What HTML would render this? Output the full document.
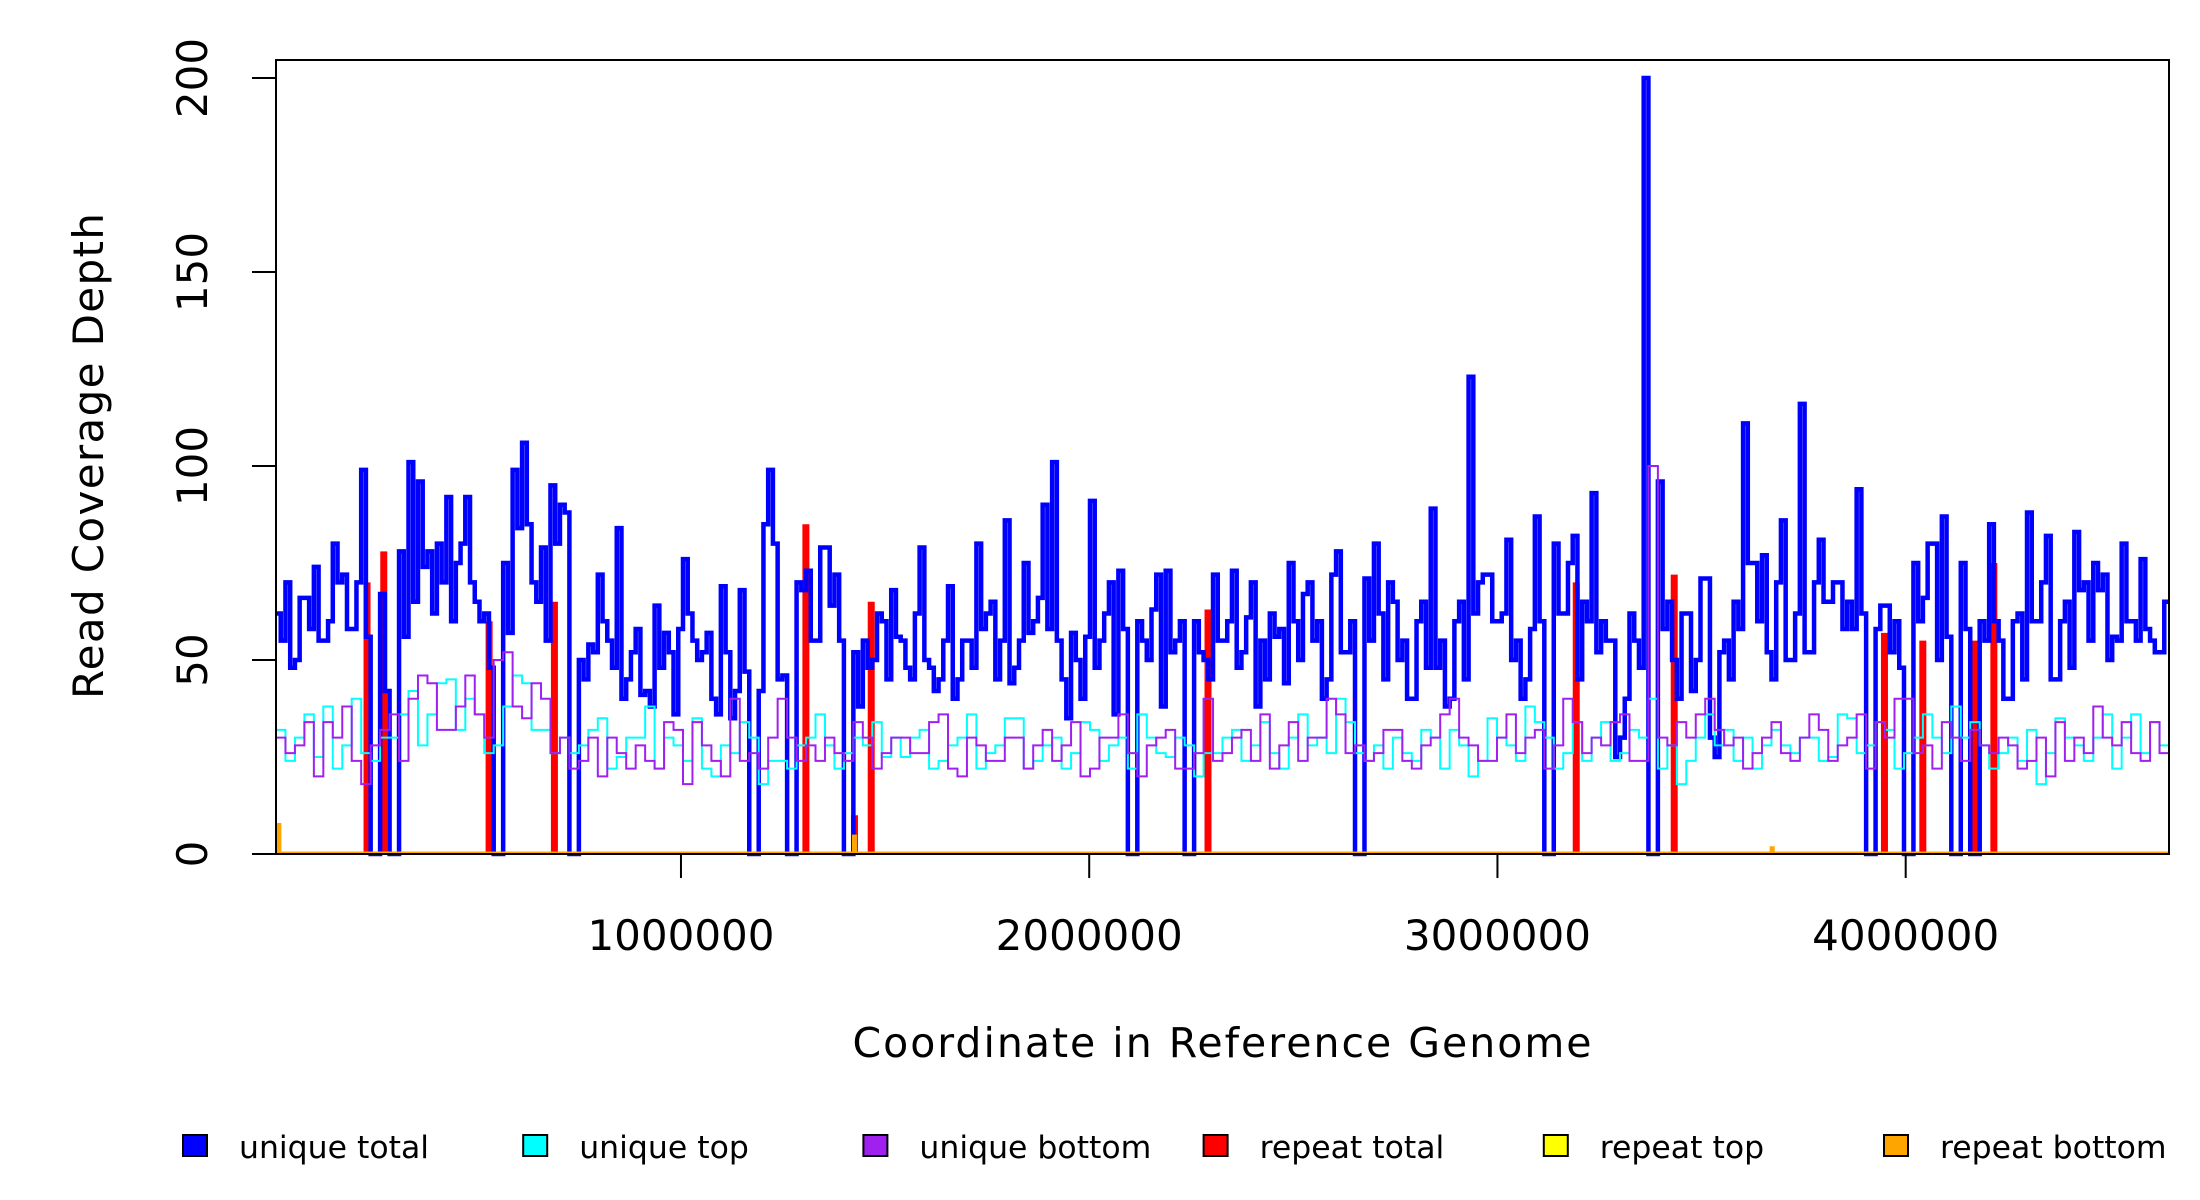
<!DOCTYPE html>
<html><head><meta charset="utf-8"><style>
html,body{margin:0;padding:0;background:#fff;}
svg{display:block;font-family:"DejaVu Sans","Liberation Sans",sans-serif;}
</style></head><body>
<svg id="chart" width="2200" height="1200" viewBox="0 0 2200 1200">
<g id="series"></g>
<rect x="276" y="60" width="1893" height="794" fill="none" stroke="#000" stroke-width="2"/>
<g id="yaxis"></g>
<g id="xaxis"></g>
<text x="1222" y="1057" font-size="41" text-anchor="middle" textLength="739">Coordinate in Reference Genome</text>
<text transform="translate(103,456) rotate(-90)" font-size="42" text-anchor="middle" textLength="486">Read Coverage Depth</text>
<g id="legend"></g>
</svg>
<script>
const uniqueTotal = [62,55,70,48,50,66,66,58,74,55,55,60,80,70,72,58,58,70,99,56,0,0,67,42,0,0,78,56,101,65,96,74,78,62,80,70,92,60,75,80,
92,70,65,60,62,48,0,0,75,57,99,84,106,85,70,65,79,55,95,80,90,88,0,0,50,45,54,52,72,60,
55,48,84,40,45,52,58,41,42,38,64,48,57,52,36,58,76,62,55,50,52,57,40,36,69,52,35,42,68,47,
0,0,42,85,99,80,45,46,0,0,70,68,73,55,55,79,79,64,72,55,0,0,52,38,55,48,50,62,60,45,
68,56,55,48,45,62,79,50,48,42,45,55,69,40,45,55,55,48,80,58,62,65,45,55,86,44,48,55,75,57,
60,66,90,58,101,55,45,35,57,50,40,56,91,48,55,62,70,36,73,58,0,0,60,55,50,63,72,38,73,52,
55,60,0,0,60,52,50,45,72,55,55,60,73,48,52,61,70,38,55,45,62,56,58,44,75,60,50,67,70,55,
60,40,45,72,78,52,52,60,0,0,71,55,80,62,45,70,65,50,55,40,40,60,65,48,89,48,55,38,40,60,
65,45,123,62,70,72,72,60,60,62,81,50,55,40,45,58,87,60,0,0,80,62,62,75,82,45,65,60,93,52,
60,55,55,25,30,40,62,55,48,200,0,0,96,58,65,50,40,62,62,42,50,71,71,30,25,52,55,45,65,58,
111,75,75,60,77,52,45,70,86,50,50,62,116,52,52,70,81,65,65,70,70,58,65,58,94,62,0,0,58,64,
64,52,60,48,0,0,75,60,66,80,80,50,87,56,0,0,75,58,0,0,60,55,85,60,55,40,40,60,62,45,
88,60,60,70,82,45,45,60,65,48,83,68,70,55,75,68,72,50,56,55,80,60,60,55,76,58,55,52,52,65];
const uniqueTop = [32,24,30,36,25,38,22,28,40,26,24,30,30,36,42,28,36,44,45,32,40,36,26,28,38,46,44,32,32,26,30,26,28,32,35,22,25,30,30,38,
22,30,28,24,35,22,20,28,26,34,30,18,24,24,22,28,30,36,28,22,26,30,28,34,25,30,25,30,32,22,24,28,30,36,22,26,28,35,35,22,
24,28,30,22,26,34,32,24,28,30,22,36,30,26,25,30,28,20,26,26,30,32,24,28,34,26,22,30,36,28,30,26,40,34,26,24,28,22,30,26,
24,32,30,22,32,28,20,24,35,30,28,24,38,34,30,22,26,34,24,30,34,24,26,32,30,40,22,28,18,24,30,36,28,32,24,30,22,28,32,28,
26,30,30,24,25,36,35,26,28,34,32,22,26,30,36,30,26,38,30,34,28,22,26,30,24,32,18,26,35,30,28,24,30,36,22,30,36,26,34,28];
const uniqueBottom = [30,26,28,34,20,34,30,38,24,18,28,32,36,24,40,46,44,32,32,38,46,36,30,50,52,38,35,44,40,26,30,22,24,30,20,30,26,22,28,24,
22,34,32,18,34,28,24,20,40,24,26,22,30,40,30,24,28,24,30,26,24,34,30,22,26,30,30,26,26,34,36,22,20,30,28,24,24,30,30,22,
28,32,24,28,34,20,22,30,30,36,26,20,28,30,32,22,22,26,40,24,26,30,32,24,36,22,28,34,24,30,30,40,36,26,28,24,26,32,32,24,
22,28,30,36,40,30,28,24,24,30,36,26,30,32,22,28,40,34,26,30,28,34,36,24,24,100,30,28,34,30,36,40,32,28,30,22,26,30,34,26,
24,30,36,32,24,28,30,36,22,34,30,40,40,26,28,22,34,30,24,32,28,26,30,28,22,24,30,20,34,24,30,26,38,30,28,34,26,24,34,26];
const repeatTotalPos = [231000,272000,530000,690000,1306000,1425000,1466000,2291000,3193000,3433000,3948000,4042000,4171000,4216000];
const repeatTotalVal = [70,78,60,65,85,10,65,63,70,72,57,55,55,75];
const repeatBottomPos = [15000,1425000,3673000];
const repeatBottomVal = [8,5,2];
const yTicks = [0,50,100,150,200];
const xTicks = [1000000,2000000,3000000,4000000];
const legendLabels = ["unique total","unique top","unique bottom","repeat total","repeat top","repeat bottom"];
const legendColors = ["#0000ff","#00ffff","#a020f0","#ff0000","#ffff00","#ffa500"];

const X0=8000, X1=4645000, PL=276, PR=2169, PB=854, PT=78;
const sx = v => PL + (v-X0)/(X1-X0)*(PR-PL);
const sy = v => PB - v/200*(PB-PT);
const NS='http://www.w3.org/2000/svg';
const series=document.getElementById('series');
function mk(tag, attrs, parent){const e=document.createElementNS(NS,tag);for(const k in attrs)e.setAttribute(k,attrs[k]);parent.appendChild(e);return e;}

function stepPath(vals){
  const w=(X1-X0)/vals.length;
  let d='M'+sx(X0)+','+sy(vals[0]);
  vals.forEach((v,i)=>{ if(i>0) d+='V'+sy(v); d+='H'+sx(X0+(i+1)*w); });
  return d;
}
repeatTotalPos.forEach((p,i)=>{
  const l=mk('line',{x1:sx(p),x2:sx(p),y1:sy(0),y2:sy(repeatTotalVal[i]),stroke:'#ff0000','stroke-width':7},series);
  
  
});
const pBlue=mk('path',{d:stepPath(uniqueTotal),fill:'none',stroke:'#0000ff','stroke-width':4.5},series);


const pCyan=mk('path',{d:stepPath(uniqueTop),fill:'none',stroke:'#00ffff','stroke-width':2},series);


const pPurp=mk('path',{d:stepPath(uniqueBottom),fill:'none',stroke:'#a020f0','stroke-width':2},series);


const base=mk('line',{x1:PL,x2:PR,y1:PB-1,y2:PB-1,stroke:'#ffa500','stroke-width':3},series);


repeatBottomPos.forEach((p,i)=>{
  const l=mk('line',{x1:sx(p),x2:sx(p),y1:sy(0),y2:sy(repeatBottomVal[i]),stroke:'#ffa500','stroke-width':5},series);
  
  
});

const yaxis=document.getElementById('yaxis');
yTicks.forEach(t=>{
  const l=mk('line',{x1:252,x2:276,y1:sy(t),y2:sy(t),stroke:'#000','stroke-width':2},yaxis);
  
  
  const tx=mk('text',{transform:'translate(207,'+sy(t)+') rotate(-90)','font-size':42,'text-anchor':'middle'},yaxis);
  tx.textContent=t;
  
  
});
const xaxis=document.getElementById('xaxis');
xTicks.forEach(t=>{
  const l=mk('line',{x1:sx(t),x2:sx(t),y1:854,y2:878,stroke:'#000','stroke-width':2},xaxis);
  
  
  const tx=mk('text',{x:sx(t),y:950,'font-size':42,'text-anchor':'middle'},xaxis);
  tx.textContent=t;
  
  
});
const legend=document.getElementById('legend');
legendLabels.forEach((lab,i)=>{
  const x=183+i*340.2;
  const r=mk('rect',{x:x,y:1135,width:24,height:21,fill:legendColors[i],stroke:'#000','stroke-width':2},legend);
  
  
  const tx=mk('text',{x:x+56,y:1158,'font-size':31.5},legend);
  tx.textContent=lab;
  
  
});
</script>
</body></html>
